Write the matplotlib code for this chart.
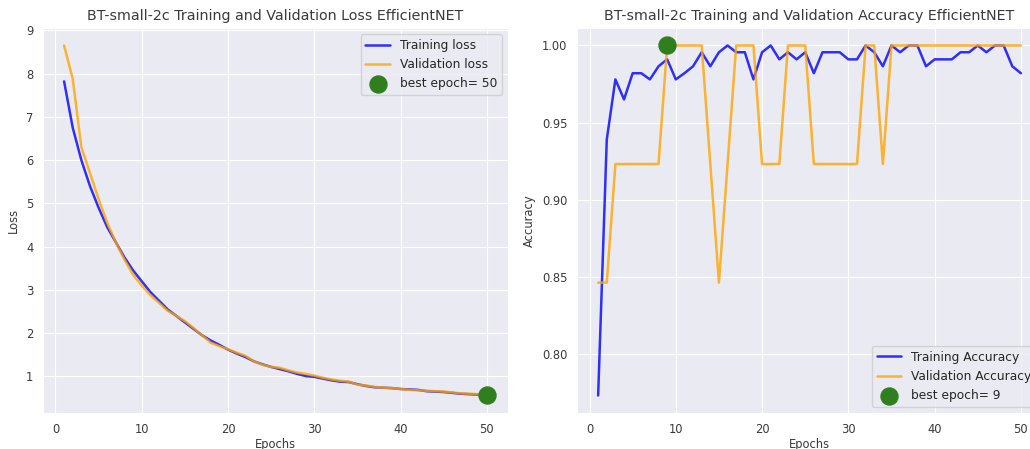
import matplotlib
matplotlib.use("Agg")
import matplotlib.pyplot as plt
import seaborn as sns
import numpy as np

epochs = list(range(1, 51))
train_loss = [7.82, 6.75, 6.0, 5.4, 4.9, 4.45, 4.1, 3.75, 3.45, 3.2,
              2.95, 2.75, 2.55, 2.4, 2.25, 2.1, 1.95, 1.83, 1.73, 1.62,
              1.53, 1.45, 1.35, 1.28, 1.22, 1.17, 1.12, 1.06, 1.01, 0.99,
              0.95, 0.91, 0.88, 0.87, 0.82, 0.78, 0.75, 0.74, 0.73, 0.71,
              0.70, 0.69, 0.66, 0.65, 0.64, 0.62, 0.60, 0.59, 0.58, 0.57]
val_loss = [8.65, 7.88, 6.3, 5.7, 5.1, 4.55, 4.1, 3.7, 3.35, 3.1,
            2.88, 2.7, 2.52, 2.4, 2.28, 2.12, 1.95, 1.78, 1.7, 1.63,
            1.55, 1.48, 1.35, 1.27, 1.22, 1.2, 1.14, 1.09, 1.06, 1.02,
            0.97, 0.93, 0.9, 0.88, 0.81, 0.79, 0.76, 0.74, 0.73, 0.71,
            0.69, 0.68, 0.67, 0.66, 0.65, 0.63, 0.61, 0.6, 0.59, 0.56]
train_acc = [0.773, 0.939, 0.978, 0.965, 0.982, 0.982, 0.978, 0.9865, 0.991, 0.978,
             0.982, 0.9865, 0.9956, 0.9865, 0.9956, 1.0, 0.9956, 0.9956, 0.978, 0.9956,
             1.0, 0.991, 0.9956, 0.991, 0.9956, 0.982, 0.9956, 0.9956, 0.9956, 0.991,
             0.991, 1.0, 0.9956, 0.9865, 1.0, 0.9956, 1.0, 1.0, 0.9865, 0.991,
             0.991, 0.991, 0.9956, 0.9956, 1.0, 0.9956, 1.0, 1.0, 0.9865, 0.982]
val_acc = [0.8462, 0.8462, 0.9231, 0.9231, 0.9231, 0.9231, 0.9231, 0.9231, 1.0, 1.0,
           1.0, 1.0, 1.0, 0.9231, 0.8462, 0.9231, 1.0, 1.0, 1.0, 0.9231,
           0.9231, 0.9231, 1.0, 1.0, 1.0, 0.9231, 0.9231, 0.9231, 0.9231, 0.9231,
           0.9231, 1.0, 1.0, 0.9231, 1.0, 1.0, 1.0, 1.0, 1.0, 1.0,
           1.0, 1.0, 1.0, 1.0, 1.0, 1.0, 1.0, 1.0, 1.0, 1.0]
best_loss_epoch = 50
best_acc_epoch = 9

sns.set_style("darkgrid")
plt.rcParams['font.family'] = ['DejaVu Sans']

fig = plt.figure(figsize=(10.30, 4.49), dpi=100)
ax1 = fig.add_axes([0.0417, 0.0802, 0.4515, 0.8575])
ax2 = fig.add_axes([0.5602, 0.0802, 0.4515, 0.8575])

fs_title = 10.3
fs_tick = 8.3
fs_label = 8.3
fs_leg = 8.8
txt = '#3a3a3a'
green = '#2f7f1f'

for ax in (ax1, ax2):
    ax.tick_params(axis='x', pad=4)

ax1.plot(epochs, train_loss, color='blue', lw=1.8, alpha=0.8, label='Training loss')
ax1.plot(epochs, val_loss, color='orange', lw=1.8, alpha=0.8, label='Validation loss')
ax1.scatter([best_loss_epoch], [val_loss[best_loss_epoch - 1]], s=150, color=green,
            label='best epoch= %d' % best_loss_epoch, zorder=3)
ax1.set_title('BT-small-2c Training and Validation Loss EfficientNET', fontsize=fs_title, color=txt)
ax1.set_xlabel('Epochs', fontsize=fs_label, color=txt, labelpad=1)
ax1.set_ylabel('Loss', fontsize=fs_label, color=txt)
ax1.tick_params(labelsize=fs_tick, colors=txt)
ax1.legend(loc='upper right', fontsize=fs_leg)

ax2.plot(epochs, train_acc, color='blue', lw=1.8, alpha=0.8, label='Training Accuracy')
ax2.plot(epochs, val_acc, color='orange', lw=1.8, alpha=0.8, label='Validation Accuracy')
ax2.scatter([best_acc_epoch], [val_acc[best_acc_epoch - 1]], s=150, color=green,
            label='best epoch= %d' % best_acc_epoch, zorder=3)
ax2.set_title('BT-small-2c Training and Validation Accuracy EfficientNET', fontsize=fs_title, color=txt)
ax2.set_xlabel('Epochs', fontsize=fs_label, color=txt, labelpad=1)
ax2.set_ylabel('Accuracy', fontsize=fs_label, color=txt)
ax2.tick_params(labelsize=fs_tick, colors=txt)
ax2.legend(loc='lower right', fontsize=fs_leg)

fig.savefig('out.png', dpi=100)
